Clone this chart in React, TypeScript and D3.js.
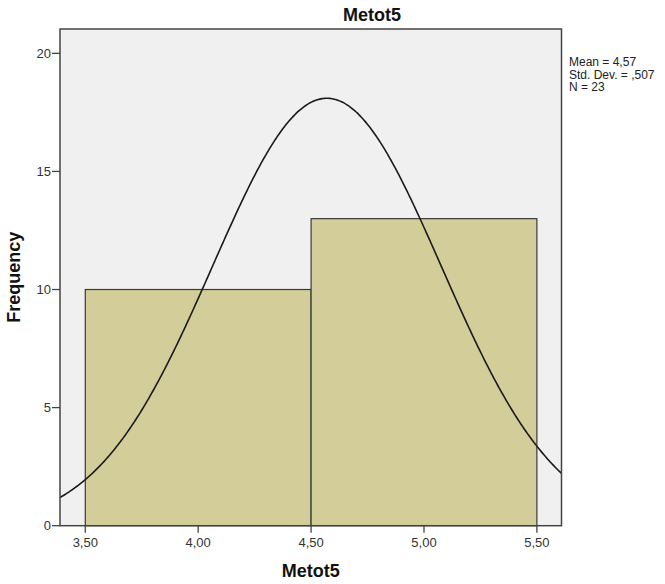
import React from "react";
import * as d3 from "d3";

const binEdges = [3.5, 4.5, 5.5];
const counts = [10, 13];
const xTicks = [3.5, 4.0, 4.5, 5.0, 5.5];
const yTicks = [0, 5, 10, 15, 20];
const statMean = 4.57;
const statSd = 0.507;
const statN = 23;
const legendLines = ["Mean = 4,57", "Std. Dev. = ,507", "N = 23"];
const title = "Metot5";
const xLabel = "Metot5";
const yLabel = "Frequency";

const W = 665;
const H = 584;
const plot = { left: 60, right: 561.5, top: 29, bottom: 525.7 };
const FONT = "'Liberation Sans', Arial, sans-serif";

export default function App() {
  const x = d3.scaleLinear().domain([3.388, 5.609]).range([plot.left, plot.right]);
  const y = d3.scaleLinear().domain([0, 21.03]).range([plot.bottom, plot.top]);
  const fmt = (v: number) => v.toFixed(2).replace(".", ",");

  const binW = binEdges[1] - binEdges[0];
  const curvePts = d3.range(0, 401).map((i) => {
    const xv = 3.388 + (i / 400) * (5.609 - 3.388);
    const z = (xv - statMean) / statSd;
    const yv = (statN * binW) / (statSd * Math.sqrt(2 * Math.PI)) * Math.exp(-0.5 * z * z);
    return [xv, yv] as [number, number];
  });
  const line = d3
    .line<[number, number]>()
    .x((d) => x(d[0]))
    .y((d) => y(d[1]))
    .curve(d3.curveBasis);

  return (
    <svg width={W} height={H} style={{ position: "absolute", left: 0, top: 0, background: "#fff" }} fontFamily={FONT}>
      <defs>
        <clipPath id="plotclip">
          <rect x={plot.left} y={plot.top} width={plot.right - plot.left} height={plot.bottom - plot.top} />
        </clipPath>
      </defs>
      <rect x={plot.left} y={plot.top} width={plot.right - plot.left} height={plot.bottom - plot.top} fill="#F0F0F0" />
      {counts.map((c, i) => (
        <rect
          key={i}
          x={x(binEdges[i])}
          y={y(c)}
          width={x(binEdges[i + 1]) - x(binEdges[i])}
          height={y(0) - y(c)}
          fill="#D3CE99"
          stroke="#3a3a3a"
          strokeWidth={1.2}
        />
      ))}
      <path d={line(curvePts) || ""} fill="none" stroke="#1a1a1a" strokeWidth={1.6} clipPath="url(#plotclip)" />
      <rect x={plot.left} y={plot.top} width={plot.right - plot.left} height={plot.bottom - plot.top} fill="none" stroke="#444" strokeWidth={1.5} />
      {yTicks.map((t) => (
        <g key={t}>
          <line x1={plot.left - 8} x2={plot.left} y1={y(t)} y2={y(t)} stroke="#444" strokeWidth={1.3} />
          <text x={plot.left - 9} y={y(t)} dy="0.35em" textAnchor="end" fontSize={13} fill="#333">
            {t}
          </text>
        </g>
      ))}
      {xTicks.map((t) => (
        <g key={t}>
          <line x1={x(t)} x2={x(t)} y1={plot.bottom} y2={plot.bottom + 7} stroke="#444" strokeWidth={1.3} />
          <text x={x(t)} y={547} textAnchor="middle" fontSize={13} fill="#333">
            {fmt(t)}
          </text>
        </g>
      ))}
      <text x={372} y={21} textAnchor="middle" fontSize={18} fontWeight="bold" fill="#111">
        {title}
      </text>
      <text x={(plot.left + plot.right) / 2} y={577} textAnchor="middle" fontSize={18} fontWeight="bold" fill="#111">
        {xLabel}
      </text>
      <text
        transform={`translate(20, ${(plot.top + plot.bottom) / 2}) rotate(-90)`}
        textAnchor="middle"
        fontSize={18}
        fontWeight="bold"
        fill="#111"
      >
        {yLabel}
      </text>
      {legendLines.map((s, i) => (
        <text key={i} x={569} y={66 + i * 12.5} fontSize={12} fill="#222">
          {s}
        </text>
      ))}
    </svg>
  );
}
